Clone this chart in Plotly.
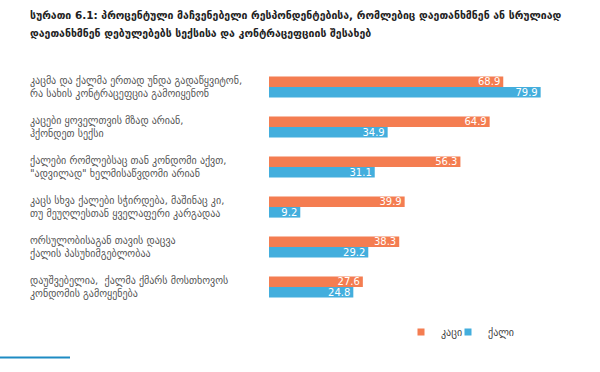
import plotly.graph_objects as go

categories = [
    "კაცმა და ქალმა ერთად უნდა გადაწყვიტონ,<br>რა სახის კონტრაცეფცია გამოიყენონ",
    "კაცები ყოველთვის მზად არიან,<br>ჰქონდეთ სექსი",
    "ქალები რომლებსაც თან კონდომი აქვთ,<br>\"ადვილად\" ხელმისაწვდომი არიან",
    "კაცს სხვა ქალები სჭირდება, მაშინაც კი,<br>თუ მეუღლესთან ყველაფერი კარგადაა",
    "ორსულობისაგან თავის დაცვა<br>ქალის პასუხიმგებლობაა",
    "დაუშვებელია,  ქალმა ქმარს მოსთხოვოს<br>კონდომის გამოყენება",
]
men = [68.9, 64.9, 56.3, 39.9, 38.3, 27.6]
women = [79.9, 34.9, 31.1, 9.2, 29.2, 24.8]
series_names = ["კაცი", "ქალი"]
title_lines = ["სურათი 6.1: პროცენტული მაჩვენებელი რესპონდენტებისა, რომლებიც დაეთანხმნენ ან სრულიად",
               "დაეთანხმნენ დებულებებს სექსისა და კონტრაცეფციის შესახებ"]

ORANGE = "#F47D51"
BLUE = "#43AEDD"
FONT = "DejaVu Sans"

W, H = 600, 372
ML, MR, MT, MB = 269, 25, 67, 65
pw = W - ML - MR
ph = H - MT - MB


def py(p):  # pixel y -> paper y
    return (MT + ph - p) / ph


def px(p):  # pixel x -> paper x
    return (p - ML) / pw


fig = go.Figure()
for name, vals, col in [(series_names[0], men, ORANGE), (series_names[1], women, BLUE)]:
    fig.add_trace(go.Bar(
        y=list(range(len(categories))), x=vals, orientation="h", name=name,
        marker=dict(color=col, line=dict(width=0)),
        text=[f"{v:.1f}" for v in vals], textposition="inside",
        insidetextanchor="end", constraintext="none",
        textfont=dict(family=FONT, size=10, color="white"),
        showlegend=False, hoverinfo="skip",
    ))
for name, col, lg in [(series_names[0], ORANGE, "legend"), (series_names[1], BLUE, "legend2")]:
    fig.add_trace(go.Scatter(
        x=[None], y=[None], mode="markers", name=name,
        marker=dict(symbol="square", size=7, color=col),
        showlegend=True, legend=lg,
    ))

for i, c in enumerate(categories):
    fig.add_annotation(
        x=px(28), xref="paper", y=i, yref="y", text=c,
        showarrow=False, xanchor="left", yanchor="middle", align="left",
        font=dict(family=FONT, size=10, color="#555555"),
    )

for t, yy in zip(title_lines, [15, 33]):
    fig.add_annotation(
        x=px(28), xref="paper", y=py(yy), yref="paper", text=t,
        showarrow=False, xanchor="left", yanchor="middle", align="left",
        font=dict(family=FONT, size=10.5, color="#222222", weight="bold"),
    )

fig.add_shape(type="line", xref="paper", yref="paper",
              x0=px(0), x1=px(70), y0=py(357.5), y1=py(357.5),
              line=dict(color="#1E8BC3", width=2))

legend_common = dict(orientation="h", xref="container", xanchor="left",
                     yref="container", y=1 - 332 / H, yanchor="middle",
                     font=dict(family=FONT, size=10, color="#444444"),
                     itemwidth=30, bgcolor="rgba(0,0,0,0)")

fig.update_layout(
    width=W, height=H,
    margin=dict(l=ML, r=MR, t=MT, b=MB, autoexpand=False),
    paper_bgcolor="white", plot_bgcolor="white",
    barmode="group", bargap=0.47, bargroupgap=0,
    uniformtext=dict(minsize=10, mode="show"),
    xaxis=dict(range=[0, 90], showgrid=False, zeroline=False, showticklabels=False,
               showline=False, ticks=""),
    yaxis=dict(range=[len(categories) - 0.5, -0.5], showgrid=False, zeroline=False,
               showticklabels=False, ticks=""),
    legend=dict(x=401 / W, **legend_common),
    legend2=dict(x=448 / W, **legend_common),
    showlegend=True,
)

fig.write_html("out.html", config={"displayModeBar": False},
               post_script="document.body.style.margin='0';document.body.style.padding='0';")
